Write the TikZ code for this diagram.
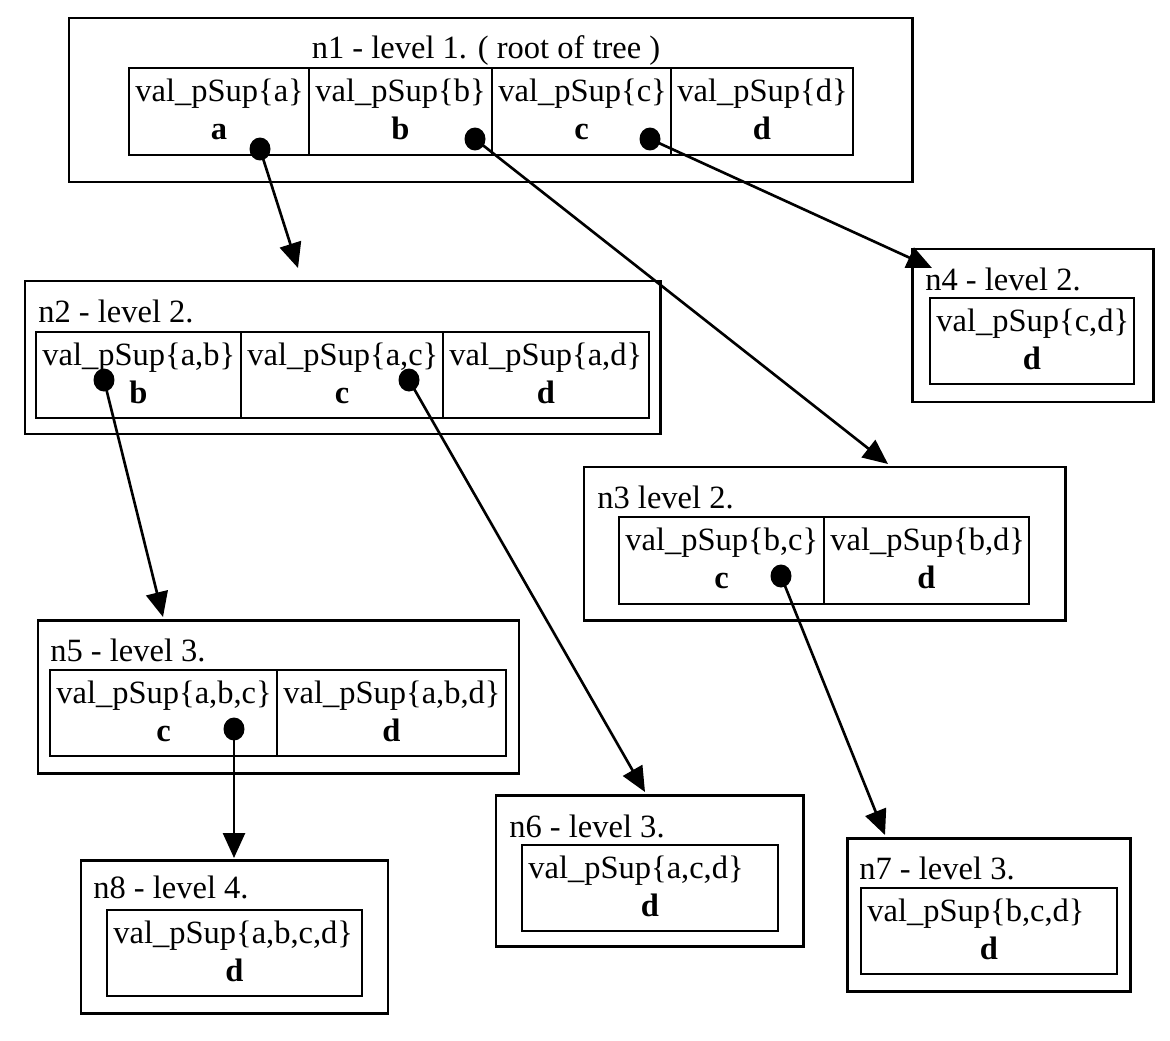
\documentclass[tikz,border=0pt]{standalone}
\usepackage{fontspec}
\setmainfont{Liberation Serif}
\usetikzlibrary{arrows.meta, fit}

\tikzset{
  aussen/.style={draw, line width=1.7pt, inner sep=0pt},
  zelle/.style={draw, line width=0.9pt, inner sep=0pt},
  txt/.style={inner sep=0pt, font=\fontsize{18.5}{22}\selectfont},
  punkt/.style={ellipse, fill, inner sep=0pt, minimum width=0.42cm, minimum height=0.46cm},
  pfeil/.style={line width=1.5pt, -{Triangle[length=0.5cm,width=0.44cm]}}
}
\usetikzlibrary{shapes.geometric}

\begin{document}
\begin{tikzpicture}[x=0.02cm, y=-0.02cm]
\useasboundingbox (0,0) rectangle (1170,1041);

% Knoten
\foreach \n/\xa/\ya/\xb/\yb in {n1/69/18/912/182, n2/25/281/660/434, n3/584/467/1065/620,
    n4/912/249/1153/402, n5/38/620/519/773, n6/496/795/803/946, n7/847/838/1130/991,
    n8/81/860/388/1013}
  \node[aussen, fit={(\xa,\ya) (\xb,\yb)}] (\n) {};

% Titel
\node[txt, anchor=base] (t1) at (486,58) {n1 - level 1. ( root of tree )};
\node[txt, anchor=base west] (t2) at (38,322) {n2 - level 2.};
\node[txt, anchor=base west] (t3) at (597,508) {n3 level 2.};
\node[txt, anchor=base west] (t4) at (925,290) {n4 - level 2.};
\node[txt, anchor=base west] (t5) at (50,661) {n5 - level 3.};
\node[txt, anchor=base west] (t6) at (509,837) {n6 - level 3.};
\node[txt, anchor=base west] (t7) at (859,879) {n7 - level 3.};
\node[txt, anchor=base west] (t8) at (93,898) {n8 - level 4.};

% Zellen
\foreach \n/\xa/\ya/\xb/\yb/\s/\e in {
    n1a/129/68/309/155/a/a, n1b/309/68/492/155/b/b, n1c/492/68/671/155/c/c, n1d/671/68/853/155/d/d,
    n2b/36/332/241/418/{a,b}/b, n2c/241/332/443/418/{a,c}/c, n2d/443/332/649/418/{a,d}/d,
    n3c/619/517/824/604/{b,c}/c, n3d/824/517/1029/604/{b,d}/d,
    n4d/930/298/1134/384/{c,d}/d,
    n5c/50/670/277/756/{a,b,c}/c, n5d/277/670/506/756/{a,b,d}/d,
    n6d/522/845/778/931/{a,c,d}/d,
    n7d/861/888/1117/974/{b,c,d}/d,
    n8d/107/910/362/996/{a,b,c,d}/d} {
  \node[zelle, fit={(\xa,\ya) (\xb,\yb)}] (\n) {};
  \node[txt, anchor=base west] (\n-w) at (\xa+6,\ya+33) {val\_pSup\{\s\}};
  \node[txt, anchor=base] (\n-k) at ({(\xa+\xb)/2},\ya+71) {\textbf{\e}};
}

% Punkte
\node[punkt] (p1a) at (260,149) {};
\node[punkt] (p1b) at (475,139) {};
\node[punkt] (p1c) at (650,139) {};
\node[punkt] (p2b) at (104,380) {};
\node[punkt] (p2c) at (409,380) {};
\node[punkt] (p3c) at (781,576) {};
\node[punkt] (p5c) at (234,729) {};

% Pfeilspitzen
\coordinate (z2) at (298,268);
\coordinate (z3) at (888,464);
\coordinate (z4) at (932,268);
\coordinate (z5) at (163,617);
\coordinate (z6) at (645,792);
\coordinate (z7) at (885,835);
\coordinate (z8) at (234,858);

% Pfeile
\draw[pfeil] (p1a.center) -- (z2);
\draw[pfeil] (p1b.center) -- (z3);
\draw[pfeil] (p1c.center) -- (z4);
\draw[pfeil] (p2b.center) -- (z5);
\draw[pfeil] (p2c.center) -- (z6);
\draw[pfeil] (p3c.center) -- (z7);
\draw[pfeil] (p5c.center) -- (z8);
\end{tikzpicture}
\end{document}
